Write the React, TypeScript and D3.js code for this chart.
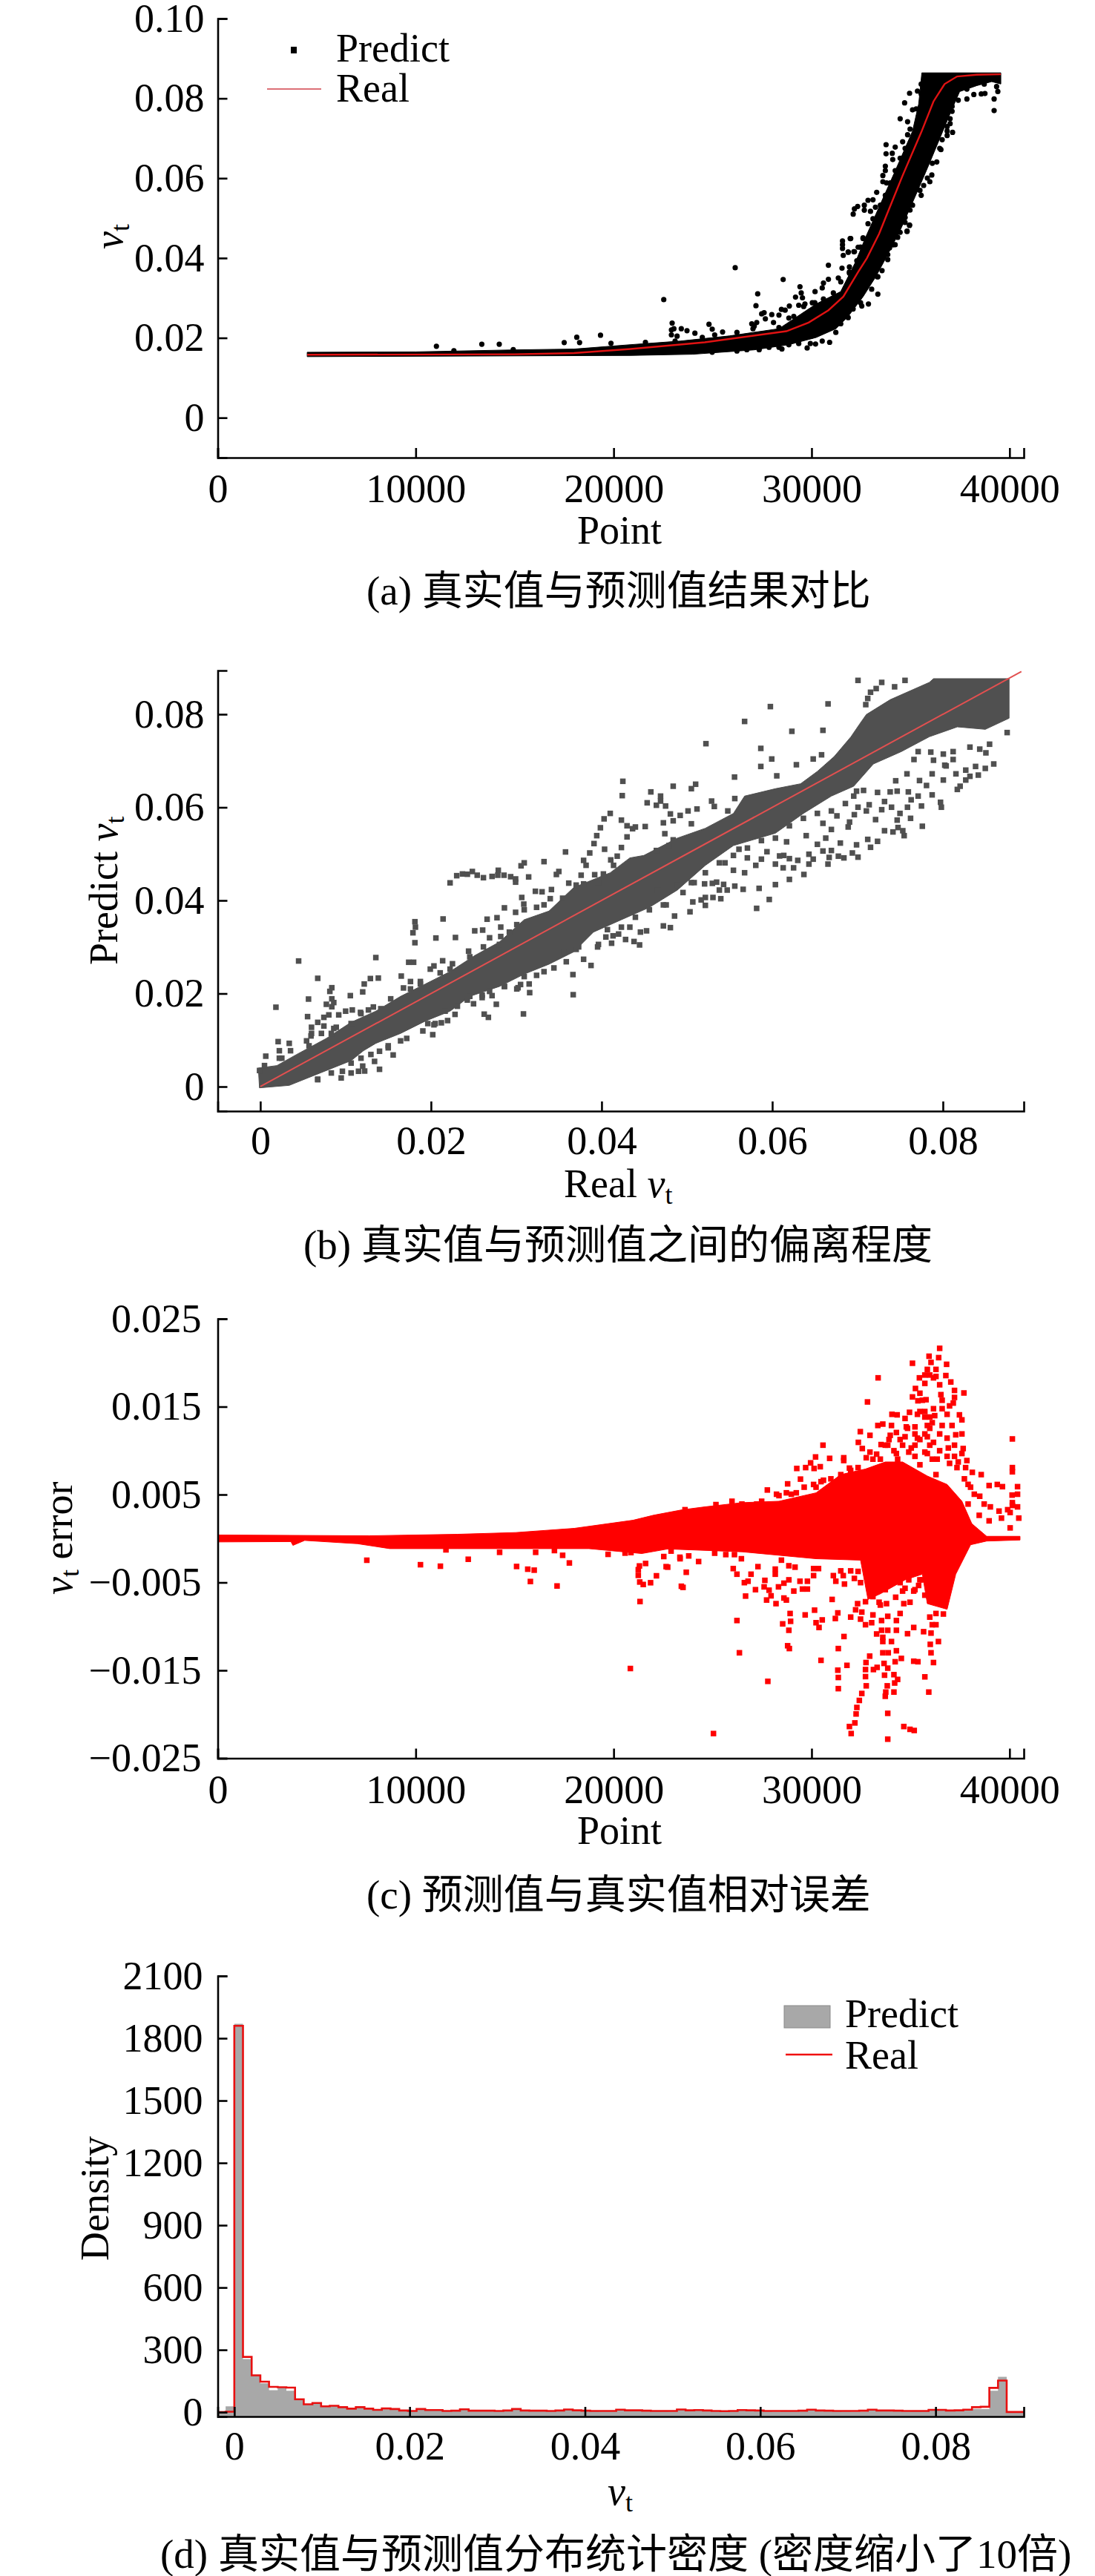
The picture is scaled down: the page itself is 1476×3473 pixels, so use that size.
import { useEffect, useRef } from 'react';
import * as d3 from 'd3';

type Pt = [number, number];

// (a) real curve and the solid part of the predict cloud, then the stray points
const realCurveA: Pt[] = [[4520,.01577],[15000,.0159],[18000,.0162],[20858,.01721],[24606,.01889],[28730,.02167],[29853,.02384],[30855,.02694],[31604,.03034],[32353,.03653],[32795,.03996],[33415,.04613],[33790,.05077],[34600,.06067],[35540,.07151],[36160,.07924],[36720,.08359],[37350,.08549],[38350,.08592],[39560,.08605]];
const bandTopA: Pt[] = [[4520,.0164],[10000,.0165],[15000,.0170],[18000,.0172],[20858,.0183],[23360,.0192],[25850,.0205],[28350,.0223],[30230,.0285],[31470,.0316],[32220,.0390],[32730,.0452],[33340,.0520],[34230,.0619],[35100,.0718],[35410,.0786],[35570,.0864],[39560,.0864]];
const bandBottomA: Pt[] = [[4520,.0153],[20858,.0156],[24000,.0159],[27100,.0170],[28850,.0183],[30230,.0201],[31230,.0223],[31850,.0254],[32600,.0303],[33240,.0353],[33850,.0409],[34480,.0470],[35100,.0539],[35850,.0625],[36480,.0700],[37100,.0774],[37480,.0817],[38350,.0832],[39100,.0842],[39560,.0836]];
const strayA: Pt[] = [
  [11047,.0179],[13340,.01842],[14222,.01842],[17504,.01883],[18138,.02017],[18280,.01883],[19337,.02068],[19866,.01864],[11930,.01679],[14929,.01708],
  [22532,.0296],[26141,.03759],[28564,.03462],[27278,.03103],[27190,.02806],[30850,.03821],[22956,.02372],[22919,.02199],[22919,.02075],[23044,.0223],[23418,.0223],[23706,.0218],[24105,.02118],[23206,.02044],[24817,.02341],[24980,.02218],[25504,.02149],[26978,.02354],[27228,.02385],[27040,.0223],
  [27602,.02632],[27478,.02601],[27990,.02583],[27665,.02477],[28352,.0257],[28077,.02385],[28477,.02713],[28664,.02694],[28852,.02496],[28877,.02799],[29189,.03022],[29414,.03282],[29476,.03127],[29539,.03004],[29351,.02818],[29664,.02849],[30038,.0288],[30175,.03158],[30538,.03251],[30600,.03375],[30850,.03468],[31350,.03499],
  [31562,.04427],[31562,.04334],[31562,.04242],[31600,.04068],[31949,.04489],[31850,.04149],[32137,.04161],[31537,.03746],[31912,.03654],[31912,.03777],
  [34947,.04817],[34822,.04669],[34122,.04334],[33560,.03685],[33323,.0353],[33348,.03096],[32873,.02849],[32536,.02799],[31225,.02137],[30912,.01889],[30538,.0192],[30200,.01846],[29938,.01858],[29776,.01747],[28502,.01722],
  [34950,.08128],[35349,.08184],[34700,.07887],[35100,.07714],[35287,.07738],[34475,.07491],[34850,.07416],[34975,.07231],[34850,.07088],[34600,.06915],[33763,.06841],[33763,.06612],[34225,.06779],[34075,.06624],[34100,.06469],[33726,.06302],[33726,.06191],[33601,.06067],[33601,.05912],[33788,.05881],[33289,.05646],[33101,.0546],[32851,.05448],[32664,.05324],[32327,.05293],[32164,.05231],[32102,.05101],[32664,.052],[32976,.0517],[33226,.05275],[33101,.04984],[32851,.0486],[31977,.04489],[32602,.04507],[32352,.04272],[31852,.04148],[32164,.0416],
  [39221,.07695],[39221,.07986],[39409,.08172],[38759,.08122],[38572,.0811],[38197,.08097],[37847,.07986],[37410,.07955],[37098,.07676],[36998,.07491],[36998,.07367],[36848,.07293],[37123,.0715],[36848,.0707],[36598,.06965],[36536,.06717],[36324,.06408],[36074,.0608],[35974,.05912],[35662,.05819],[35537,.05572],[34950,.04829],[34825,.04674],[34100,.04334],[33938,.04253],
];
const edgeA: Pt[] = [
  [29976,.02044],[29351,.01858],[28852,.01827],[28352,.01766],[27852,.01766],[27353,.01704],[26728,.01704],[26229,.01673],[24980,.01642],[31475,.02354],[31849,.02508],[32099,.02725],[32474,.0288],[33036,.0322],[33348,.0353],[33848,.03963],[33848,.04087],[34222,.04334],[34472,.04644],[34722,.04892],[34972,.05201],
  [32598,.04489],[32473,.04273],[32286,.03932],[31911,.03623],[31475,.03406],[31100,.03127],[30600,.02973],[30163,.0288],[29601,.02787],[29101,.02539],[28352,.02261],[27103,.02292],[26229,.02137],[25105,.02075],[24480,.02013],[23106,.0192],[21607,.01889],
  [35349,.07243],[35225,.06996],[34725,.06748],[34475,.065],[34225,.06191],[33975,.05881],[33726,.05572],[33476,.05324],[35474,.07738],[35537,.0811],[35537,.08357],
  [36099,.06376],[35849,.06005],[35474,.05696],[35100,.05324],[34725,.05015],[34350,.0452],[36474,.06748],[36848,.07181],[37098,.078],[37847,.08234],[38722,.08357],[39347,.08296],
];

// (b) predict against real
const bandTopB: Pt[] = [[-.00023,.00399],[.00194,.00452],[.00426,.00691],[.00774,.01036],[.01064,.01382],[.01354,.01621],[.01644,.01939],[.01934,.02205],[.02224,.02471],[.02513,.02816],[.02803,.03108],[.02948,.03347],[.03093,.03586],[.03383,.03772],[.03673,.04277],[.04101,.04595],[.04331,.04914],[.04495,.04967],[.04888,.05339],[.05216,.05551],[.05545,.0587],[.05676,.06242],[.06037,.06401],[.06332,.06507],[.06529,.06773],[.06726,.07092],[.06923,.07517],[.07021,.07782],[.07103,.07995],[.07382,.08313],[.07841,.08685],[.0789,.08765],[.08776,.08765]];
const bandBottomB: Pt[] = [[-.0001,-.00026],[.00339,.00027],[.00629,.0024],[.00919,.00452],[.01064,.00558],[.01209,.00771],[.01354,.0093],[.01644,.01143],[.01934,.01408],[.02224,.01621],[.02456,.01939],[.02803,.02152],[.03093,.02417],[.03383,.0263],[.03673,.02895],[.03904,.0332],[.04232,.03586],[.0456,.03851],[.04888,.04223],[.05216,.04754],[.05545,.05179],[.06037,.05445],[.06365,.0587],[.06693,.06242],[.06955,.06454],[.07185,.06932],[.07513,.07198],[.07841,.07517],[.08169,.07729],[.08497,.07676],[.08776,.07915]];
const strayB: Pt[] = [
  [.00449,.02699],[.00183,.01706],[.00673,.02327],[.00565,.01881],[.00838,.02125],[.00815,.02046],[.00838,.01886],[.00861,.01806],[.00774,.01769],[.00838,.01716],[.00554,.01504],[.00745,.01488],[.00803,.01541],[.00673,.01381],[.006,.01275],[.0089,.01275],[.00832,.01143],[.00716,.01143],[.00594,.01089],[.00919,.01541],[.01,.01621],[.01078,.01647],[.01174,.01594],[.01267,.01647],[.01325,.01711],
  [.01055,.01955],[.012,.02035],[.01218,.02205],[.0129,.02322],[.01383,.02332],[.01354,.02773],[.00209,.00967],[.00339,.0093],[.00064,.00654],[.00223,.00771],[.00354,.00771],[.00252,.00611],[.01652,.02375],[.01739,.02672],[.01797,.02672],[.01812,.03543],[.01818,.03427],[.01789,.03305],[.01812,.03092],[.02142,.03602],[.02058,.03193],[.02287,.03204],[.02137,.02704],[.02252,.0264],[.02035,.02593],[.0176,.02258],[.01678,.0212],[.01876,.02258],
  [.02224,.04378],[.02302,.04532],[.02369,.04569],[.02427,.04563],[.02485,.04622],[.02542,.04542],[.02615,.04489],[.02716,.04516],[.02789,.04648],[.02783,.04542],[.02856,.04542],[.02934,.0451],[.02992,.04462],[.02992,.04393],[.03145,.04505],[.03056,.04744],[.03093,.04808],[.03325,.04834],[.03577,.05042],[.03861,.0502],[.03911,.05222],[.04035,.051],[.03789,.04861],[.03818,.04755],[.03499,.04622],[.0347,.04558],[.0376,.04542],[.03919,.04553],[.04021,.04569],
  [.03615,.04372],[.03224,.04197],[.03302,.04186],[.03412,.04234],[.03398,.04038],[.03543,.04048],[.03064,.04064],[.03088,.03921],[.02861,.03841],[.02992,.03745],[.02658,.03597],[.02774,.03629],[.02818,.03427],[.02513,.03347],[.02606,.03363],[.02687,.03198],[.02818,.03225],[.02615,.03002],[.02441,.02911],
  [.03667,.01975],[.03664,.02407],[.03084,.01562],[.02673,.01488],[.02624,.01557],[.02766,.01769],[.03157,.02019],[.0305,.02194],[.03876,.02603],[.03789,.02736],[.01557,.0068],[.01397,.00372],[.01223,.00335],[.01151,.0033],[.01064,.00293],[.00948,.00186],[.00962,.0033],[.00673,.00149],[.012,.00441],[.01339,.00542],[.01397,.0076],[.01499,.00834],[.02195,.01419],[.02122,.01371],[.02035,.01328],[.02021,.01116],[.02282,.01552],[.02499,.0178],[.026,.01913],[.02716,.01955],[.02861,.02152],[.03021,.02125],[.03151,.02205],
  [.07005,.08728],[.07283,.08685],[.07218,.08552],[.07152,.08473],[.07119,.0834],[.07096,.08207],[.07434,.0859],[.07556,.08728],[.06654,.08223],[.05978,.08165],[.05676,.07846],[.0623,.07634],[.06594,.07655],[.05223,.07368],[.05866,.07267],[.05994,.07039],[.05866,.06879],[.06578,.07129],[.0648,.07039],[.06283,.06916],[.05558,.06651],[.06053,.06677],[.04249,.0656],[.04242,.06252],[.04839,.06454],[.05102,.06497],[.05052,.06401],[.04577,.06332],[.04691,.06242],[.04534,.06098],[.04691,.06135],[.0475,.06029],[.04642,.06045],
  [.04101,.0587],[.04029,.05753],[.04232,.05726],[.04298,.05604],[.03986,.05562],[.04511,.05588],[.04396,.05578],[.04363,.05541],[.03943,.05392],[.04298,.05365],[.04232,.05137],[.04642,.05073],[.04183,.04951],[.04107,.04871],[.0414,.04754],[.04724,.05668],[.04806,.05859],[.04921,.05827],[.05013,.05923],[.05118,.05965],[.04839,.05711],[.05052,.05647],[.05289,.06135],[.05321,.06019],[.05561,.06189],[.05479,.05923],[.04741,.05434],[.04839,.05302],[.0479,.05179],
  [.08753,.07607],[.08596,.06932],[.08497,.06837],[.08415,.06693],[.08317,.06667],[.08268,.06587],[.08202,.06454],[.08169,.06385],[.08153,.0672],[.08005,.06587],[.07972,.06109],[.07982,.06003],[.07874,.06268],[.07808,.0647],[.07726,.06576],[.07874,.0672],[.0771,.06242],[.07749,.06029],[.07628,.06162],[.07595,.06332],[.07464,.06348],[.07382,.06332],[.07447,.06571],[.07579,.0672],[.07234,.06321],[.0707,.06364],[.07316,.06125],[.07136,.06056],[.07005,.06003],[.07103,.05923],[.07283,.0595],[.07398,.06003],[.07497,.0587],[.07585,.06003],[.07621,.05764],[.07464,.05726],[.07211,.05737],[.06962,.05843],[.0689,.05578],[.06758,.05817],[.06906,.05684],[.07759,.05594],[.07546,.05392],[.0753,.05498],[.07415,.05472],[.07316,.05498],[.07474,.05567],[.07234,.0527],[.07152,.05142],[.07119,.05312],[.07005,.0493],[.06939,.0502],[.06988,.05195],[.0684,.04914],[.06775,.04951],[.06798,.05233],[.06693,.05073],[.06594,.05062],[.06667,.04924],[.06653,.04781],[.0643,.04781],[.0648,.04887],[.0643,.04993],[.06299,.04861],[.06201,.04898],[.06135,.04967],[.06086,.04956],[.06037,.04781],[.06128,.04701],[.0625,.04701],[.06371,.04558],[.06201,.04452],[.06037,.0434],[.05965,.04021],[.05817,.0383],[.05846,.0426],[.05659,.04239],[.05561,.04308],[.05472,.04223],[.0538,.04223],[.0543,.04345],[.05348,.04393],[.05298,.04367],[.05207,.04356],[.05397,.04037],[.05305,.04064],[.05216,.04064],[.05167,.04011],[.05069,.03968],[.05216,.03894],[.05036,.03756],[.04855,.03665],[.04806,.03416],[.04724,.03453],[.04527,.03347],[.04455,.0332],[.04445,.03044],[.0438,.03118],[.04281,.03161],[.04199,.03278],[.04134,.0324],[.04117,.03081],[.03953,.03001],
  [.08022,.06906],[.08038,.0689],[.0812,.07028],[.08383,.06879],[.08268,.068],[.08504,.07171],[.08547,.07357],[.08432,.07251],[.08317,.07294],[.0812,.07198],[.08005,.07145],[.07858,.07187],[.0771,.07198],[.07661,.07028],[.0789,.07012],
  [.06594,.05657],[.06693,.05525],[.06627,.05339],[.06529,.05206],[.06398,.05392],[.06168,.05259],[.05873,.05286],[.05938,.05047],[.0561,.051],[.05708,.04914],[.05873,.04887],[.05807,.04754],[.05676,.04595],[.05545,.04648],[.05446,.04808],[.05085,.04383],[.04954,.0417],[.04757,.03904],[.04659,.04223],[.04331,.03426],[.04068,.03373],
];
const edgeB: Pt[] = [
  [.03093,.03799],[.03238,.03852],[.03325,.03905],[.03702,.0433],[.03789,.04356],[.03963,.04383],[.03006,.0348],[.02919,.0332],[.02803,.03055],[.02658,.02895],[.02455,.02789],[.02224,.02524],[.02108,.02444],[.01992,.02524],[.01876,.02205],[.0176,.02099],[.01528,.01886],[.01412,.01674],[.0118,.01568],[.01064,.01355],[.00861,.01249],[.00745,.01302],[.006,.01143],[.00542,.00983],[.00571,.00877],[.00223,.00611],[.00049,.00452],[-.00009,.00346],
  [.0405,.03214],[.03963,.03055],[.03702,.02949],[.03731,.03002],[.03557,.02895],[.03586,.02683],[.03441,.0255],[.03325,.0247],[.03238,.02391],[.03093,.02364],[.03006,.02099],[.02861,.02152],[.02687,.02046],[.026,.01966],[.02455,.01939],[.02426,.0186],[.0231,.01727],[.02166,.01621],[.0205,.01355],[.01963,.01355],[.01905,.01196],[.01716,.01036],[.01644,.00983],[.01499,.00877],[.01296,.00691],[.0118,.00611],[.01064,.00505],[.00832,.00293],[.00673,.0016],
  [.06988,.06348],[.06955,.06242],[.06857,.06082],[.06693,.05923],[.06529,.0587],[.06365,.05764],[.06201,.05604],[.06037,.05339],[.05709,.05126],[.05545,.04967],[.0538,.04808],[.05216,.04595],[.05052,.04383],[.04888,.04329],[.04724,.03904],[.0456,.03798],[.04396,.03639],[.04232,.03426],
];

// (c) relative error
const bandTopC: Pt[] = [[0,.0004],[7649,.00031],[12092,.00048],[15054,.00068],[18016,.00116],[20978,.00208],[22015,.00265],[23466,.00327],[24606,.0036],[26479,.00408],[28353,.00424],[30226,.0052],[31475,.00727],[32724,.00791],[33723,.00871],[34598,.00871],[35847,.00711],[36846,.00615],[37595,.00424],[38095,.00169],[38844,.00025],[40530,.00025]];
const bandBottomC: Pt[] = [[0,-.00039],[3700,-.00035],[3798,-.00078],[4391,-.00022],[7057,-.00059],[8686,-.00115],[12092,-.00115],[15054,-.00115],[18756,-.00115],[21422,-.00171],[22732,-.00119],[26479,-.00151],[30226,-.0023],[32474,-.00246],[32849,-.00693],[33473,-.00629],[34722,-.0047],[35597,-.00406],[35847,-.00741],[36846,-.00805],[37283,-.00406],[38033,-.00071],[38844,-.00029],[40530,-.00017]];
const strayC: Pt[] = [
  [7531,-.00247],[10241,-.00298],[11248,-.00315],[12655,-.00236],[11529,-.00129],[14240,-.00157],[15098,-.00318],[15661,-.00349],[15987,-.0036],[15795,-.00489],[17142,-.0054],[17764,-.00278],[17424,-.00191],[16061,-.00157],[17009,-.00137],[19719,-.0018],[20578,-.00166],[20875,-.0016],[21304,-.00312],[21245,-.00354],[21245,-.00419],[21319,-.00495],[21496,-.00523],[21866,-.00503],[22163,-.00424],[21615,-.00284],[21333,-.00717],[20845,-.01479],[22533,-.00205],[22652,-.0032],[22903,-.00143],[23348,-.00213],[23421,-.00543],
  [36471,.02164],[35934,.02074],[36421,.02058],[35097,.01994],[36821,.01982],[36034,.02004],[35847,.01924],[36284,.01924],[33361,.01828],[32824,.01554],[36783,.01854],[37033,.01781],[35447,.01828],[35722,.01765],[36159,.01828],[36471,.01749],[37220,.01685],[37695,.01656],[35247,.01707],[35472,.01653],[36533,.01637],[35097,.01611],[35784,.01579],[35372,.01567],[37158,.01541],[36159,.01477],[36846,.01413],[35472,.01445],[34947,.01436],[34060,.01413],[34323,.01407],[37470,.01407],[37595,.0135],[34722,.01366],[33598,.01302],[33348,.01286],[34036,.01286],[35722,.01382],[35347,.01413],[36221,.01398],[37095,.01286],[36596,.01286],[35847,.01286],[37595,.0119],[37283,.0118],[35222,.0127],[34785,.0127],[32462,.01216],[32949,.01174],[33973,.01174],[34285,.01206],[34722,.01158],[35847,.01158],[36846,.01142],[35347,.01142],
  [32362,.01094],[32562,.01024],[32949,.00983],[33511,.01069],[33848,.01062],[34598,.01062],[35222,.01062],[35971,.01062],[37220,.01062],[37658,.01024],[30576,.01062],[30201,.00928],[30913,.00912],[31625,.00919],[31625,.00887],[29951,.00861],[30438,.00817],[30126,.00797],[29252,.00797],[29701,.00807],[32761,.00919],[33099,.00903],[33286,.0096],[34285,.00967],[34910,.00983],[35722,.00983],[36846,.00935],[36096,.00903],[37845,.00887],[37408,.00871],[36971,.00855],[35472,.00839],[37782,.00807],[38120,.00753],[38569,.00727],[36284,.00727],[38969,.00603],[39381,.00615],[39643,.0059],[40405,.0059],[40130,.00494],[40405,.00504],[40143,.01133],[40143,.00807],[40143,.00759],[40143,.00408],[40143,.00376],[40405,.0036],[39906,.00328],[39469,.00312],[39031,.0036],[38719,.00392],[38494,.00481],[38220,.00504],[37907,.00392],[38032,.00584],
  [29439,.00676],[28790,.00622],[27765,.00552],[28228,.00504],[28727,.0052],[29227,.0052],[29626,.00584],[30101,.00615],[30601,.00663],[31912,.00801],[32349,.00727],[27228,.00392],[26479,.00392],[25168,.00386],[23606,.00328],[38469,.00264],[38969,.00201],[39593,.00232],[40031,.00296],[40468,.00232],[40031,.00121],
  [36658,-.00859],[35971,-.00894],[36284,-.00853],[36096,-.00981],[36284,-.00981],[36034,-.01076],[35996,-.01204],[36408,-.01172],[36034,-.013],[36159,-.01411],[35659,-.0106],[35160,-.01012],[34847,-.01083],[34285,-.01044],[33848,-.01044],[33536,-.01044],[33286,-.01086],[33598,-.01124],[33598,-.01172],[34036,-.01172],[34473,-.00853],[34285,-.00933],[33848,-.00885],[33536,-.00933],[33036,-.00958],[32724,-.00981],[32474,-.00917],[32537,-.00837],[33099,-.00869],[32224,-.00811],[31975,-.00894],[31325,-.00846],[31200,-.0091],[30538,-.00926],[30226,-.00958],[30376,-.01012],[30151,-.00815],[29676,-.00869],[28915,-.00853],[28940,-.00942],[28540,-.00971],[28852,-.01044],[31637,-.01115],[31350,-.01252],[28790,-.0122],[28877,-.01252],[26229,-.00933],[26354,-.013],[30476,-.01386],[27790,-.01625],[25043,-.02219],
  [32936,-.01338],[32749,-.01411],[32724,-.01491],[31787,-.01443],[31325,-.01498],[31350,-.01581],[31350,-.01708],[32724,-.01571],[33124,-.01491],[33311,-.01466],[33661,-.01421],[33848,-.01475],[33686,-.01555],[33598,-.013],[33873,-.013],[34285,-.01277],[34535,-.01364],[34223,-.01402],[35160,-.01396],[35372,-.01402],[35722,-.01574],[35921,-.01747],[34160,-.01549],[34348,-.01603],[34198,-.01644],[33823,-.01676],[33748,-.01747],[34160,-.01747],[33723,-.01795],[32761,-.01676],[32537,-.01763],[32412,-.01842],[32287,-.01922],[32249,-.01996],[32187,-.02098],[31912,-.02139],[32000,-.02219],[33848,-.01989],[34660,-.02139],[34972,-.02171],[35185,-.02184],[33848,-.02283],
  [22732,-.00326],[23669,-.00384],[23506,-.00556],[23357,-.0023],[23794,-.00198],[24293,-.00262],[25105,-.00167],[25667,-.00183],[26104,-.00183],[26454,-.0023],[26042,-.00342],[26229,-.00406],[27291,-.0032],[26941,-.00406],[26791,-.00486],[26604,-.00502],[26666,-.00655],[27640,-.00476],[27603,-.0055],[27166,-.00582],[27853,-.00588],[27953,-.00652],[27728,-.007],[28203,-.00741],[28328,-.0055],[28602,-.00508],[28602,-.00677],[28727,-.007],[28165,-.00406],[28165,-.00348],[28477,-.00246],[28852,-.0031],[29164,-.00326],[28852,-.0047],[29102,-.00598],[29414,-.00486],[29789,-.00486],[29539,-.00575],[29789,-.00575],[30101,-.00342],[30351,-.00342],[30101,-.00422],[31038,-.00693],[31100,-.00422],[31225,-.00486],[31662,-.00518],[31600,-.00422],[31475,-.00368],[31975,-.00368],[32162,-.00454],[32474,-.00502],[32324,-.00741],[32724,-.00719],[33411,-.00725],[33786,-.00741],[34248,-.00668],[34660,-.00741],[34972,-.00725],[35222,-.00582],[35722,-.00645],[34722,-.00566],[35472,-.0047],[34473,-.00502],[32349,-.00374],
];
const edgeC: Pt[] = [
  [33723,.01062],[33911,.01126],[34160,.00999],[34473,.01126],[35035,.0103],[35472,.01126],[35722,.0119],[36159,.01094],[36471,.00999],[36346,.00903],[36908,.0103],[37220,.00935],[37595,.00967],[37345,.00807],[37720,.00679],[37907,.00616],[34847,.01254],[35222,.0119],[35971,.01254],[36096,.01318],[36471,.0119],[35722,.01445],[35971,.01382],[36596,.01477],[36971,.01509],[37220,.01605],[36596,.01573],[35597,.01573],[35971,.0186],[36284,.01844],[35722,.0186],[35222,.00935],[35847,.00967],[34348,.00903],[33473,.00903],[32349,.00807],[31975,.00775],[31475,.00727],[30975,.00679],[30476,.00647],[30226,.00584],[28977,.00504],[28353,.00488],[27478,.00424],[25979,.00424],
  [32974,-.00566],[33099,-.00661],[33286,-.0047],[33473,-.00757],[33723,-.00582],[33973,-.00438],[34598,-.00598],[34910,-.0047],[35160,-.00598],[35409,-.00534],[35597,-.0047],[35347,-.00342],[35597,-.00278],[34910,-.00342],[34223,-.00406],
];

// (d) histogram, bin index -2 .. 90
const binWidth = 0.00099;
const firstBin = -2;
const densityReal = [0,2,1860,266,177,147,122,120,118,62,38,44,28,31,24,17,24,17,11,18,15,8,6,15,10,10,6,7,14,7,7,7,6,8,15,8,7,7,6,8,13,9,7,6,6,6,12,9,9,7,6,6,6,13,9,10,8,6,5,6,10,9,8,6,6,6,6,7,12,8,7,6,6,6,7,12,8,8,7,6,6,6,11,11,8,9,12,24,26,117,152,1,1];
const densityPredict = [5,28,1870,256,181,139,106,120,103,62,38,46,28,33,24,17,23,15,11,14,12,8,6,14,8,8,5,6,12,6,5,5,4,7,13,7,6,4,4,7,11,8,6,4,3,3,10,4,8,5,4,4,3,11,8,13,7,5,3,4,12,9,6,3,2,3,3,5,10,6,5,4,3,2,3,10,6,6,4,3,4,5,10,9,7,7,9,16,15,103,170,0,0];

const pointTicks = [0, 10000, 20000, 30000, 40000];
const vtTicksA = [0, 0.02, 0.04, 0.06, 0.08, 0.1];
const vtTicksB = [0, 0.02, 0.04, 0.06, 0.08];
const errorTicks = [-0.025, -0.015, -0.005, 0.005, 0.015, 0.025];
const densityTicks = [0, 300, 600, 900, 1200, 1500, 1800, 2100];

const SERIF = '"Liberation Serif", "Noto Sans CJK SC", serif';
const FONT = 54;

type G = d3.Selection<SVGGElement, unknown, null, undefined>;

function drawAxes(g: G, x: any, y: any, xTicks: number[], yTicks: number[], xFmt: (d: number) => string, yFmt: (d: number) => string, xPad: number, yPad: number) {
  const bottom = y.range()[0];
  const left = x.range()[0];
  const ax = g.append('g').attr('transform', `translate(0,${bottom})`)
    .call(d3.axisBottom(x).tickValues(xTicks).tickFormat(xFmt as any).tickSize(-13).tickPadding(xPad) as any);
  const ay = g.append('g').attr('transform', `translate(${left},0)`)
    .call(d3.axisLeft(y).tickValues(yTicks).tickFormat(yFmt as any).tickSize(-13).tickPadding(yPad) as any);
  for (const a of [ax, ay]) {
    a.attr('font-family', SERIF).attr('font-size', FONT);
    a.selectAll('line').attr('stroke', '#000').attr('stroke-width', 2.6);
    a.select('.domain').attr('stroke', '#000').attr('stroke-width', 2.6);
    a.selectAll('text').attr('fill', '#000');
  }
}

function squares(g: G, pts: Pt[], x: any, y: any, size: number, fill: string) {
  g.append('g').selectAll('rect').data(pts).enter().append('rect')
    .attr('x', (d) => x(d[0]) - size / 2)
    .attr('y', (d) => y(d[1]) - size / 2)
    .attr('width', size)
    .attr('height', size)
    .attr('fill', fill);
}

function band(g: G, top: Pt[], bottom: Pt[], x: any, y: any, fill: string) {
  const line = d3.line<Pt>().x((d) => x(d[0])).y((d) => y(d[1]));
  g.append('path').attr('d', line([...top, ...[...bottom].reverse()]) + 'Z').attr('fill', fill).attr('stroke', fill).attr('stroke-width', 1);
}

function label(g: G, x: number, y: number, parts: { t: string; italic?: boolean; sub?: boolean }[], rotate = false, size = FONT) {
  const text = g.append('text')
    .attr('transform', rotate ? `translate(${x},${y}) rotate(-90)` : `translate(${x},${y})`)
    .attr('font-family', SERIF)
    .attr('font-size', size)
    .attr('fill', '#000');
  let down = false;
  for (const p of parts) {
    const span = text.append('tspan').text(p.t).attr('xml:space', 'preserve');
    if (p.italic) span.attr('font-style', 'italic');
    if (p.sub) {
      span.attr('font-size', 36).attr('dy', 9);
      down = true;
    } else if (down) {
      span.attr('dy', -9);
      down = false;
    }
  }
}

export default function App() {
  const svgRef = useRef<SVGSVGElement>(null);

  useEffect(() => {
    if (!svgRef.current) return;
    const svg = d3.select(svgRef.current);
    svg.selectAll('*').remove();
    const root = svg.append('g') as unknown as G;
    const fmt = (d: number) => (d === 0 ? '0' : d3.format('.2f')(d));
    const fmtErr = (d: number) => d3.format('.3f')(d).replace('-', '\u2212');
    const fmtInt = (d: number) => String(d);

    // (a)
    const xA = d3.scaleLinear().domain([0, 40720]).range([293.5, 1380]);
    const yA = d3.scaleLinear().domain([-0.01, 0.1]).range([617, 25]);
    band(root, bandTopA, bandBottomA, xA, yA, '#000');
    root.append('g').selectAll('circle').data([...strayA, ...edgeA]).enter().append('circle')
      .attr('cx', (d) => xA(d[0])).attr('cy', (d) => yA(d[1])).attr('r', 3.6).attr('fill', '#000');
    root.append('path')
      .attr('d', d3.line<Pt>().x((d) => xA(d[0])).y((d) => yA(d[1]))(realCurveA))
      .attr('fill', 'none').attr('stroke', '#e01212').attr('stroke-width', 2.4);
    drawAxes(root, xA, yA, pointTicks, vtTicksA, fmtInt, fmt, 22, 18);
    root.append('rect').attr('x', 392).attr('y', 63).attr('width', 8).attr('height', 9).attr('fill', '#000');
    label(root, 453, 83, [{ t: 'Predict' }]);
    root.append('line').attr('x1', 360).attr('x2', 433).attr('y1', 120).attr('y2', 120).attr('stroke', '#d0404a').attr('stroke-width', 1.6);
    label(root, 453, 137, [{ t: 'Real' }]);
    label(root, 165, 336, [{ t: 'v', italic: true }, { t: 't', sub: true }], true);
    label(root, 778, 733, [{ t: 'Point' }]);
    label(root, 494, 815, [{ t: '(a) 真实值与预测值结果对比' }], false, 55);

    // (b)
    const xB = d3.scaleLinear().domain([-0.00499, 0.08948]).range([293.5, 1380]);
    const yB = d3.scaleLinear().domain([-0.00526, 0.0894]).range([1498, 904]);
    band(root, bandTopB, bandBottomB, xB, yB, '#505050');
    squares(root, [...strayB, ...edgeB], xB, yB, 7.5, '#505050');
    root.append('path')
      .attr('d', d3.line<number>().x((d) => xB(d)).y((d) => yB(d))([0, 0.0892]))
      .attr('fill', 'none').attr('stroke', '#e25050').attr('stroke-width', 2);
    drawAxes(root, xB, yB, vtTicksB, vtTicksB, fmt, fmt, 20, 18);
    label(root, 158, 1301, [{ t: 'Predict ' }, { t: 'v', italic: true }, { t: 't', sub: true }], true);
    label(root, 760, 1614, [{ t: 'Real ' }, { t: 'v', italic: true }, { t: 't', sub: true }]);
    label(root, 409, 1697, [{ t: '(b) 真实值与预测值之间的偏离程度' }], false, 55);

    // (c)
    const xC = d3.scaleLinear().domain([0, 40720]).range([293.5, 1380]);
    const yC = d3.scaleLinear().domain([-0.025, 0.025]).range([2370.5, 1778]);
    band(root, bandTopC, bandBottomC, xC, yC, '#ff0000');
    squares(root, [...strayC, ...edgeC], xC, yC, 7.5, '#ff0000');
    drawAxes(root, xC, yC, pointTicks, errorTicks, fmtInt, fmtErr, 22, 22);
    label(root, 97, 2150, [{ t: 'v', italic: true }, { t: 't', sub: true }, { t: ' error' }], true);
    label(root, 778, 2486, [{ t: 'Point' }]);
    label(root, 494, 2573, [{ t: '(c) 预测值与真实值相对误差' }], false, 55);

    // (d)
    const xD = d3.scaleLinear().domain([-0.00189, 0.09006]).range([293.5, 1380]);
    const yD = d3.scaleLinear().domain([-21, 2100]).range([3258, 2664]);
    const edge = (i: number) => Math.max((firstBin + i) * binWidth, xD.domain()[0]);
    const stepLine = (values: number[]) => [...values, values[values.length - 1]].map((v, i) => [edge(i), v] as Pt);
    root.append('path')
      .attr('d', d3.area<Pt>().x((d) => xD(d[0])).y0(yD(-21)).y1((d) => yD(d[1])).curve(d3.curveStepAfter)(stepLine(densityPredict)))
      .attr('fill', '#a8a8a8');
    root.append('path')
      .attr('d', d3.line<Pt>().x((d) => xD(d[0])).y((d) => yD(d[1])).curve(d3.curveStepAfter)(stepLine(densityReal)))
      .attr('fill', 'none').attr('stroke', '#e81010').attr('stroke-width', 2.6);
    drawAxes(root, xD, yD, vtTicksB, densityTicks, fmt, fmtInt, 20, 20);
    root.append('rect').attr('x', 1057).attr('y', 2704).attr('width', 62).attr('height', 30).attr('fill', '#a8a8a8').attr('stroke', '#8a8a8a');
    label(root, 1139, 2733, [{ t: 'Predict' }]);
    root.append('line').attr('x1', 1059).attr('x2', 1122).attr('y1', 2770).attr('y2', 2770).attr('stroke', '#f01010').attr('stroke-width', 2.4);
    label(root, 1139, 2789, [{ t: 'Real' }]);
    label(root, 146, 3048, [{ t: 'Density' }], true);
    label(root, 819, 3377, [{ t: 'v', italic: true }, { t: 't', sub: true }]);
    label(root, 216, 3462, [{ t: '(d) 真实值与预测值分布统计密度 (密度缩小了10倍)' }], false, 55);
  }, []);

  return (
    <svg
      ref={svgRef}
      width={1476}
      height={3473}
      style={{ position: 'absolute', left: 0, top: 0, background: '#fff' }}
    />
  );
}
